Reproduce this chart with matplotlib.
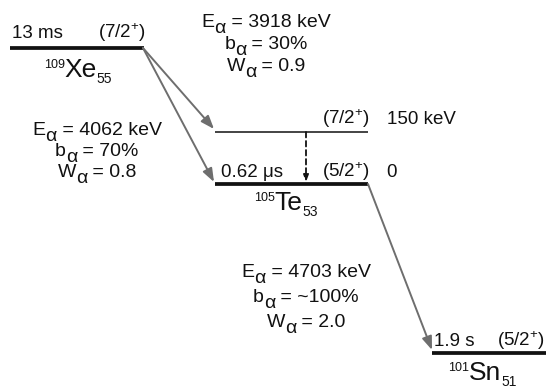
import matplotlib
matplotlib.use("Agg")
import matplotlib.pyplot as plt

plt.rcParams.update({
    "font.family": "Liberation Sans",
    "mathtext.fontset": "custom",
    "mathtext.rm": "Liberation Sans",
    "mathtext.it": "Liberation Sans",
    "mathtext.bf": "Liberation Sans:bold",
})

# alpha decay chain 109Xe -> 105Te -> 101Sn
parents    = ["Xe", "Te", "Sn"]
mass_nums  = ["109", "105", "101"]
neutrons   = ["55", "53", "51"]
half_lives = ["13 ms", "0.62 μs", "1.9 s"]
spins      = ["(7/2$^{+}$)", "(5/2$^{+}$)", "(5/2$^{+}$)"]
excited_spin   = "(7/2$^{+}$)"
excited_energy = "150 keV"

# transitions: Xe->Te(150), Xe->Te(gs), Te->Sn
e_alpha = ["3918", "4062", "4703"]
b_alpha = ["30%", "70%", "~100%"]
w_alpha = ["0.9", "0.8", "2.0"]

ink  = "#111111"
gray = "#6e6e6e"

fig = plt.figure(figsize=(5.46, 3.92), dpi=100)
ax = fig.add_axes([0, 0, 1, 1])
ax.set_xlim(0, 546)
ax.set_ylim(392, 0)
ax.axis("off")
renderer = fig.canvas.get_renderer()


def pieces(x, y, parts, ha="center"):
    """Lay out (text, fontsize, dy) runs on one baseline; axes units are pixels."""
    objs, widths = [], []
    for s, size, dy in parts:
        t = ax.text(0, y + dy, s, fontsize=size, color=ink, va="baseline", ha="left")
        widths.append(t.get_window_extent(renderer).width)
        objs.append(t)
    total = sum(widths)
    x0 = {"left": x, "center": x - total / 2, "right": x - total}[ha]
    for t, w in zip(objs, widths):
        t.set_x(x0)
        x0 += w


# level layout (x0, x1, y)
xe_lv = (10, 144, 48)
te_ex = (215, 368, 132)
te_gs = (215, 368, 184)
sn_lv = (432, 546, 353)

thick, thin = 2.7, 1.1
for (x0, x1, y), lw in [(xe_lv, thick), (te_gs, thick), (sn_lv, thick), (te_ex, thin)]:
    ax.plot([x0, x1], [y, y], color=ink, lw=lw, solid_capstyle="butt")

arrow = dict(arrowstyle="-|>,head_length=0.8,head_width=0.3", color=gray, lw=1.4,
             shrinkA=0, shrinkB=0)
ax.annotate("", xy=(te_ex[0] - 1, te_ex[2] - 3), xytext=(xe_lv[1] - 1, xe_lv[2]), arrowprops=arrow)
ax.annotate("", xy=(te_gs[0] - 1, te_gs[2] - 2), xytext=(xe_lv[1] - 1, xe_lv[2]), arrowprops=arrow)
ax.annotate("", xy=(sn_lv[0], sn_lv[2] - 3), xytext=(te_gs[1], te_gs[2]), arrowprops=arrow)

# gamma from the 150 keV state
ax.annotate("", xy=(306, te_gs[2] - 2), xytext=(306, te_ex[2]),
            arrowprops=dict(arrowstyle="-|>,head_length=0.4,head_width=0.15", color=ink,
                            lw=1.3, ls=(0, (3, 2)), shrinkA=0, shrinkB=0))

fs = 13.5
# half-lives, spins, energies
pieces(12, 38, [(half_lives[0], fs, 0)], ha="left")
pieces(146, 38, [(spins[0], fs, 0)], ha="right")
pieces(221, 177, [(half_lives[1], fs, 0)], ha="left")
pieces(370, 177, [(spins[1], fs, 0)], ha="right")
pieces(370, 124, [(excited_spin, fs, 0)], ha="right")
pieces(387, 124, [(excited_energy, fs, 0)], ha="left")
pieces(386, 177, [("0", fs, 0)], ha="left")
pieces(434, 346, [(half_lives[2], fs, 0)], ha="left")
pieces(545, 346, [(spins[2], fs, 0)], ha="right")

# nuclide names
for (x, y), a, el, n in zip([(78, 77), (286, 210), (482, 380)], mass_nums, parents, neutrons):
    pieces(x, y, [(a, 9, -9), (el, 19, 0), (n, 10, 6)])

# alpha transition labels: (centre x, baselines)
fa = 14
blocks = [(266, [27, 49, 71]), (97, [135, 156, 177]), (306, [277, 302, 327])]
for (cx, ys), e, b, w in zip(blocks, e_alpha, b_alpha, w_alpha):
    for head, rest, y in zip(["E", "b", "W"], [f" = {e} keV", f" = {b}", f" = {w}"], ys):
        pieces(cx, y, [(head, fa, 0), ("α", fa, 6), (rest, fa, 0)])

fig.savefig("out.png", dpi=100)
